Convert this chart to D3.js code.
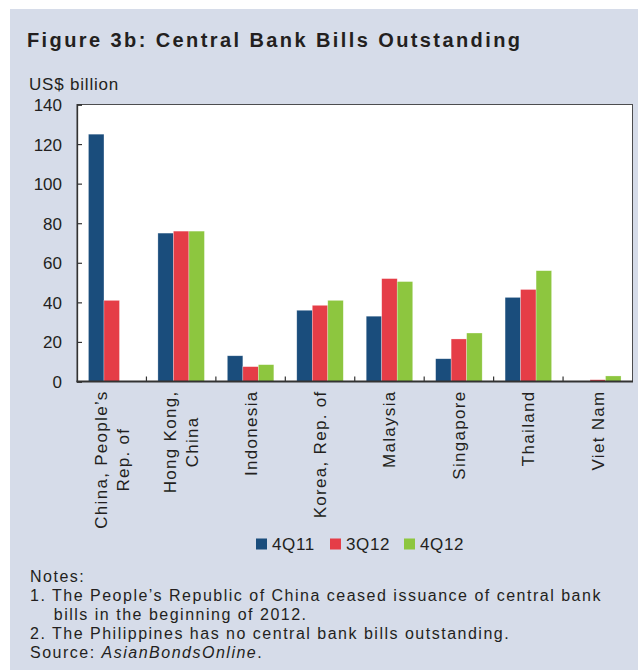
<!DOCTYPE html>
<html>
<head>
<meta charset="utf-8">
<script src="https://cdn.jsdelivr.net/npm/d3@7"></script>
<style>
  html, body { margin: 0; padding: 0; background: #ffffff; }
  svg { display: block; }
  text { font-family: "Liberation Sans", Arial, sans-serif; fill: #231f20; }
</style>
</head>
<body>
<svg id="chart" width="638" height="670"></svg>
<script>
// Central bank bills outstanding, US$ billion
const categories = [
  ["China, People\u2019s", "Rep. of"],
  ["Hong Kong,", "China"],
  ["Indonesia"],
  ["Korea, Rep. of"],
  ["Malaysia"],
  ["Singapore"],
  ["Thailand"],
  ["Viet Nam"]
];
const seriesNames = ["4Q11", "3Q12", "4Q12"];
const values4Q11 = [125, 75, 13, 36, 33, 11.5, 42.5, null];
const values3Q12 = [41, 76, 7.5, 38.5, 52, 21.5, 46.5, 0.9];
const values4Q12 = [null, 76, 8.5, 41, 50.5, 24.5, 56, 2.8];
const yTicks = [0, 20, 40, 60, 80, 100, 120, 140];
const notes = [
  "Notes:",
  "1. The People\u2019s Republic of China ceased issuance of central bank",
  "    bills in the beginning of 2012.",
  "2. The Philippines has no central bank bills outstanding."
];

const seriesValues = [values4Q11, values3Q12, values4Q12];
const colors = ["#1a4d7c", "#e53d47", "#8dc63f"];

const svg = d3.select("#chart");

// panel background
svg.append("rect")
  .attr("x", 10).attr("y", 9)
  .attr("width", 628).attr("height", 661)
  .attr("fill", "#d6dce9");

// title
svg.append("text")
  .attr("x", 27).attr("y", 47)
  .attr("font-size", 20).attr("font-weight", "bold")
  .attr("textLength", 493).attr("lengthAdjust", "spacing")
  .text("Figure 3b: Central Bank Bills Outstanding");

svg.append("text")
  .attr("x", 29).attr("y", 90)
  .attr("font-size", 17).attr("letter-spacing", 0.8)
  .text("US$ billion");

const plot = { left: 77, right: 632.5, top: 104.5, bottom: 381.5 };

const labelKeys = categories.map(d => d.join(" "));
const x = d3.scaleBand()
  .domain(labelKeys)
  .range([plot.left, plot.right])
  .paddingInner(0).paddingOuter(0);

const xInner = d3.scaleBand()
  .domain(seriesNames)
  .range([0, x.bandwidth()])
  .paddingInner(0).paddingOuter(0.74);

const y = d3.scaleLinear().domain([0, 140]).range([plot.bottom, plot.top]);

// plot area
svg.append("rect")
  .attr("x", plot.left).attr("y", plot.top)
  .attr("width", plot.right - plot.left).attr("height", plot.bottom - plot.top)
  .attr("fill", "#ffffff")
  .attr("stroke", "#4d4d4f").attr("stroke-width", 1);

// bars
const groups = svg.append("g").selectAll("g")
  .data(labelKeys)
  .join("g")
  .attr("transform", d => `translate(${x(d)},0)`);

groups.selectAll("rect")
  .data((d, i) => seriesNames.map((s, k) => ({ s, k, v: seriesValues[k][i] })).filter(e => e.v !== null))
  .join("rect")
  .attr("x", e => xInner(e.s))
  .attr("width", xInner.bandwidth())
  .attr("y", e => y(e.v))
  .attr("height", e => y(0) - y(e.v))
  .attr("fill", e => colors[e.k])
  .attr("stroke", "rgba(255,255,255,0.45)")
  .attr("stroke-width", 0.6);

// y axis, ticks pointing into the plot
const yAxis = svg.append("g")
  .attr("transform", `translate(${plot.left},0)`)
  .call(d3.axisRight(y).tickValues(yTicks).tickSize(5).tickFormat(d3.format("d")));
yAxis.select(".domain").attr("stroke", "#333333").attr("stroke-width", 1.3);
yAxis.selectAll(".tick line").attr("stroke", "#333333").attr("stroke-width", 1.2);
yAxis.selectAll(".tick text")
  .attr("x", -15).attr("text-anchor", "end")
  .attr("font-size", 17).attr("fill", "#231f20")
  .attr("font-family", "Liberation Sans, Arial, sans-serif")
  .attr("dy", "0.35em");

// x axis line with boundary ticks pointing up
const boundaries = labelKeys.slice(1).map(k => x(k));
svg.append("g").selectAll("line")
  .data(boundaries)
  .join("line")
  .attr("x1", d => d).attr("x2", d => d)
  .attr("y1", plot.bottom).attr("y2", plot.bottom - 5)
  .attr("stroke", "#333333").attr("stroke-width", 1.2);
svg.append("line")
  .attr("x1", plot.left - 0.5).attr("x2", plot.right + 0.5)
  .attr("y1", plot.bottom).attr("y2", plot.bottom)
  .attr("stroke", "#333333").attr("stroke-width", 2);

// category labels, rotated, top-aligned block with centred lines
const lineGap = 22;
const labelTop = plot.bottom + 9;
const catLabels = svg.append("g").selectAll("g")
  .data(categories)
  .join("g");
catLabels.each(function(lines, i) {
  const g = d3.select(this);
  const cx = x(labelKeys[i]) + x.bandwidth() / 2;
  const n = lines.length;
  const measure = [];
  lines.forEach((line, j) => {
    const t = g.append("text")
      .attr("font-size", 17)
      .attr("letter-spacing", 1.3)
      .attr("text-anchor", "middle")
      .text(line);
    measure.push(t);
  });
  const widths = measure.map(t => t.node().getComputedTextLength());
  const maxW = d3.max(widths);
  measure.forEach((t, j) => {
    const lx = cx + (j - (n - 1) / 2) * lineGap;
    const ly = labelTop + maxW / 2;
    t.attr("transform", `translate(${lx},${ly}) rotate(-90)`)
      .attr("dy", "0.35em");
  });
});

// legend
const legend = svg.append("g").attr("transform", "translate(256,544)");
const legendStep = 74;
seriesNames.forEach((s, k) => {
  const lg = legend.append("g").attr("transform", `translate(${k * legendStep},0)`);
  lg.append("rect").attr("x", 0).attr("y", -5.5).attr("width", 11).attr("height", 11).attr("fill", colors[k]);
  lg.append("text").attr("x", 16).attr("y", 0).attr("dy", "0.36em")
    .attr("font-size", 17).attr("letter-spacing", 0.6).text(s);
});

// notes and source
const noteTop = 582;
const noteStep = 19;
notes.forEach((line, i) => {
  svg.append("text")
    .attr("x", 30).attr("y", noteTop + i * noteStep)
    .attr("font-size", 16).attr("letter-spacing", 1.5)
    .attr("xml:space", "preserve")
    .style("white-space", "pre")
    .text(line);
});
const src = svg.append("text")
  .attr("x", 30).attr("y", noteTop + notes.length * noteStep)
  .attr("font-size", 16).attr("letter-spacing", 1.5);
src.append("tspan").text("Source: ");
src.append("tspan").attr("font-style", "italic").text("AsianBondsOnline");
src.append("tspan").text(".");
</script>
</body>
</html>
